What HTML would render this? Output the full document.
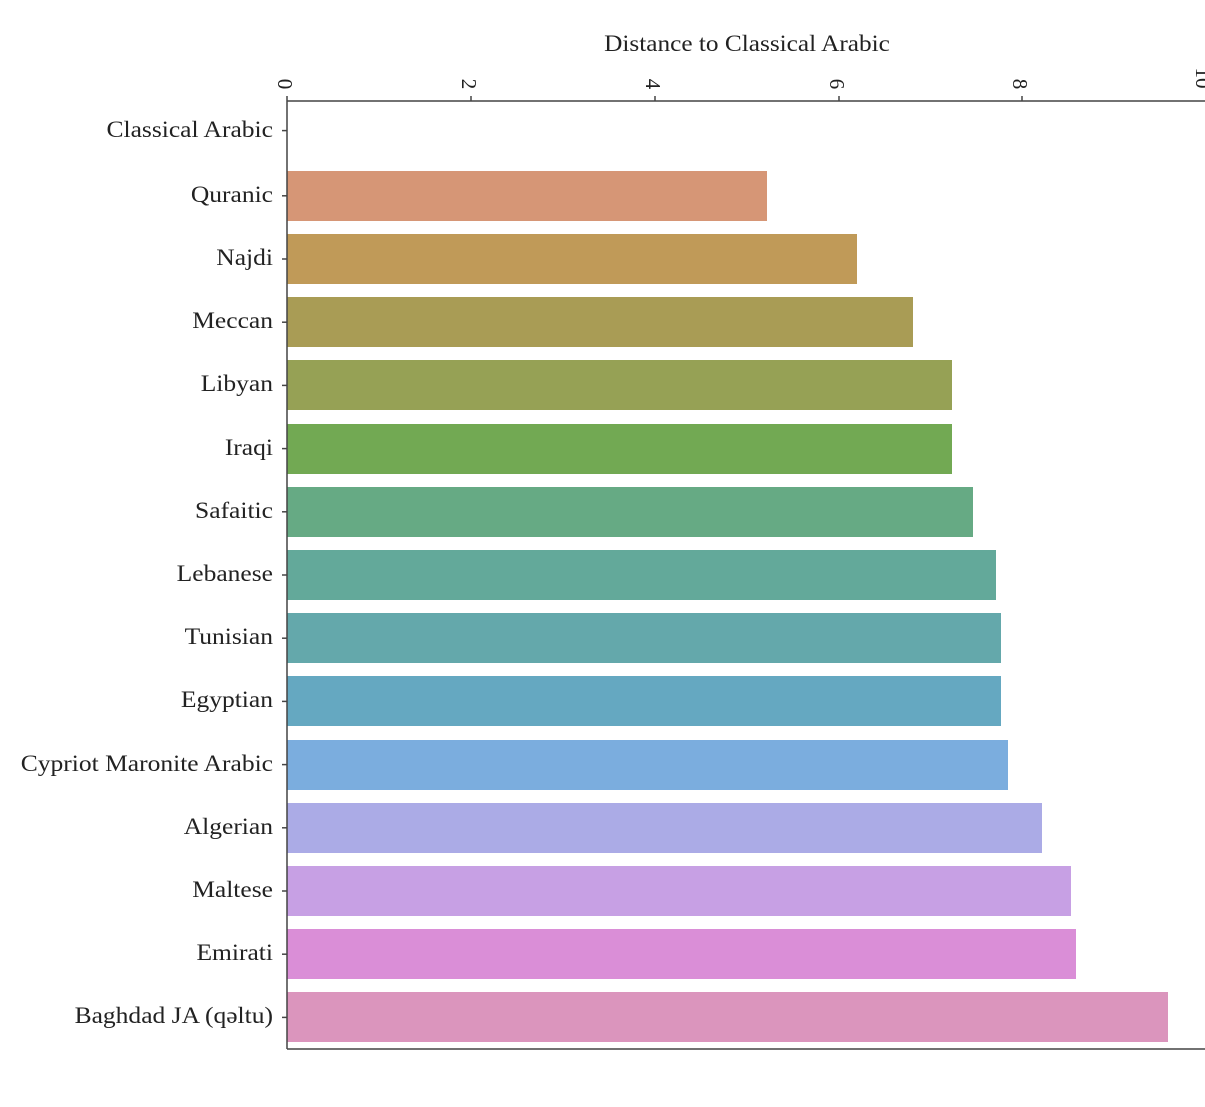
<!DOCTYPE html>
<html><head><meta charset="utf-8"><style>
html,body{margin:0;padding:0;background:#fff;}
svg{display:block;}
text{font-family:"Liberation Serif",serif;fill:#222;}
</style></head><body>
<svg width="1205" height="1107" viewBox="0 0 1205 1107" xmlns="http://www.w3.org/2000/svg">
<g>
<rect x="287" y="171" width="480" height="50" fill="#d69676"/>
<rect x="287" y="234" width="570" height="50" fill="#c09a58"/>
<rect x="287" y="297" width="626" height="50" fill="#a99c55"/>
<rect x="287" y="360" width="665" height="50" fill="#96a155"/>
<rect x="287" y="424" width="665" height="50" fill="#72a953"/>
<rect x="287" y="487" width="686" height="50" fill="#66aa84"/>
<rect x="287" y="550" width="709" height="50" fill="#63a99a"/>
<rect x="287" y="613" width="714" height="50" fill="#64a8ab"/>
<rect x="287" y="676" width="714" height="50" fill="#65a8c1"/>
<rect x="287" y="740" width="721" height="50" fill="#7badde"/>
<rect x="287" y="803" width="755" height="50" fill="#ababe6"/>
<rect x="287" y="866" width="784" height="50" fill="#c7a0e4"/>
<rect x="287" y="929" width="789" height="50" fill="#da8ed7"/>
<rect x="287" y="992" width="881" height="50" fill="#db95bd"/>
</g>
<g stroke="#444" stroke-width="1.5" fill="none">
<line x1="287" y1="101" x2="287" y2="1049"/>
<line x1="287" y1="101" x2="1205" y2="101"/>
<line x1="287" y1="1049" x2="1205" y2="1049"/>
<line x1="287" y1="101" x2="287" y2="96"/>
<line x1="471" y1="101" x2="471" y2="96"/>
<line x1="655" y1="101" x2="655" y2="96"/>
<line x1="839" y1="101" x2="839" y2="96"/>
<line x1="1022" y1="101" x2="1022" y2="96"/>
<line x1="282" y1="130.6" x2="287" y2="130.6"/>
<line x1="282" y1="195.8" x2="287" y2="195.8"/>
<line x1="282" y1="259" x2="287" y2="259"/>
<line x1="282" y1="322.2" x2="287" y2="322.2"/>
<line x1="282" y1="385.4" x2="287" y2="385.4"/>
<line x1="282" y1="448.6" x2="287" y2="448.6"/>
<line x1="282" y1="511.8" x2="287" y2="511.8"/>
<line x1="282" y1="575" x2="287" y2="575"/>
<line x1="282" y1="638.2" x2="287" y2="638.2"/>
<line x1="282" y1="701.4" x2="287" y2="701.4"/>
<line x1="282" y1="764.6" x2="287" y2="764.6"/>
<line x1="282" y1="827.8" x2="287" y2="827.8"/>
<line x1="282" y1="891" x2="287" y2="891"/>
<line x1="282" y1="954.2" x2="287" y2="954.2"/>
<line x1="282" y1="1017.4" x2="287" y2="1017.4"/>
</g>
<g font-size="21">
<text transform="translate(285,84) rotate(90)" text-anchor="middle" dominant-baseline="central">0</text>
<text transform="translate(469,84) rotate(90)" text-anchor="middle" dominant-baseline="central">2</text>
<text transform="translate(653,84) rotate(90)" text-anchor="middle" dominant-baseline="central">4</text>
<text transform="translate(837,84) rotate(90)" text-anchor="middle" dominant-baseline="central">6</text>
<text transform="translate(1020,84) rotate(90)" text-anchor="middle" dominant-baseline="central">8</text>
<text transform="translate(1203,78) rotate(90)" text-anchor="middle" dominant-baseline="central">10</text>
</g>
<text transform="translate(747,51) scale(1.1,1)" font-size="23" text-anchor="middle">Distance to Classical Arabic</text>
<g font-size="23" text-anchor="end" transform="translate(273,0) scale(1.11,1) translate(-273,0)">
<text x="273" y="137">Classical Arabic</text>
<text x="273" y="202">Quranic</text>
<text x="273" y="265">Najdi</text>
<text x="273" y="328">Meccan</text>
<text x="273" y="391">Libyan</text>
<text x="273" y="455">Iraqi</text>
<text x="273" y="518">Safaitic</text>
<text x="273" y="581">Lebanese</text>
<text x="273" y="644">Tunisian</text>
<text x="273" y="707">Egyptian</text>
<text x="273" y="771">Cypriot Maronite Arabic</text>
<text x="273" y="834">Algerian</text>
<text x="273" y="897">Maltese</text>
<text x="273" y="960">Emirati</text>
<text x="273" y="1023">Baghdad JA (qəltu)</text>
</g>
</svg>
</body></html>
